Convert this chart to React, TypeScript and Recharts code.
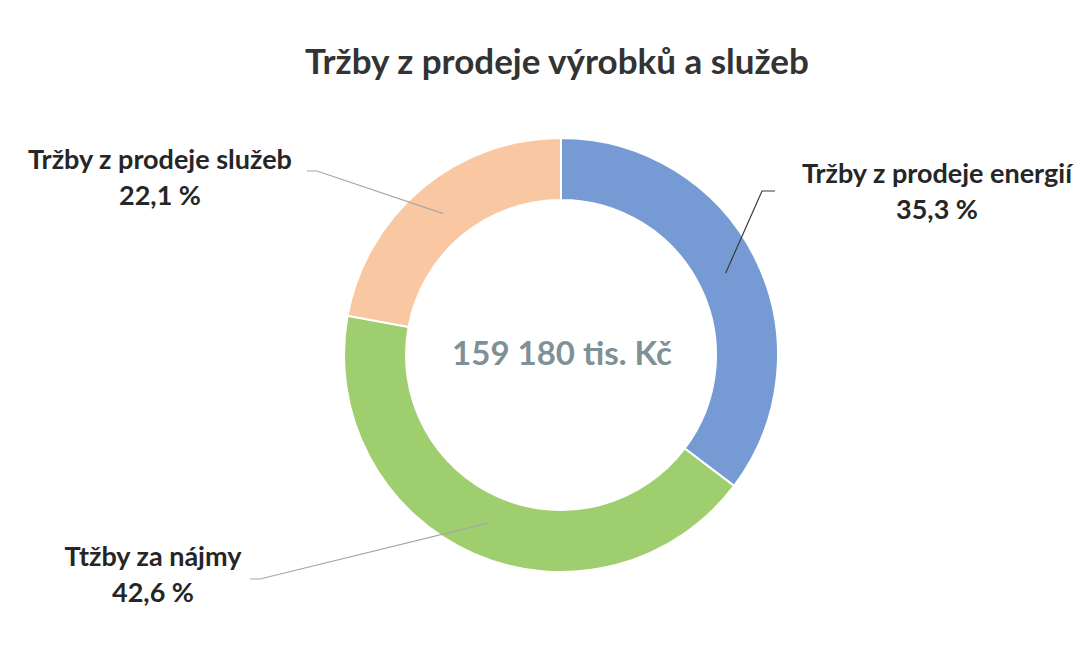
import { PieChart, Pie, Cell } from 'recharts';

const categories = ['Tržby z prodeje energií', 'Ttžby za nájmy', 'Tržby z prodeje služeb'];
const shares = [35.3, 42.6, 22.1];
const percentLabels = ['35,3 %', '42,6 %', '22,1 %'];
const sliceColors = ['#769BD4', '#9FCE6E', '#F9C8A2'];
const leaderColors = ['#3a3a3a', '#a6a6a6', '#a6a6a6'];
const chartTitle = 'Tržby z prodeje výrobků a služeb';
const totalLabel = '159 180 tis. Kč';

const data = categories.map((name, i) => ({ name, value: shares[i], pct: percentLabels[i] }));

const RAD = Math.PI / 180;
const FONT = 'Lato, "Open Sans", sans-serif';

// label placement relative to pie centre (elbow / end of leader, text centre)
const labelLayout = [
  { elbow: [201, -164], end: [214, -164], text: [376, -183] },
  { elbow: [-301, 224], end: [-311, 224], text: [-408, 200] },
  { elbow: [-244, -184], end: [-254, -184], text: [-401, -197] },
];

const renderLabel = (props: any) => {
  const { cx, cy, midAngle, index } = props;
  const r = 184;
  const ax = cx + r * Math.cos(-midAngle * RAD);
  const ay = cy + r * Math.sin(-midAngle * RAD);
  const l = labelLayout[index];
  const pts = `${ax},${ay} ${cx + l.elbow[0]},${cy + l.elbow[1]} ${cx + l.end[0]},${cy + l.end[1]}`;
  return (
    <g>
      <polyline points={pts} fill="none" stroke={leaderColors[index]} strokeWidth={1.2} />
      <text
        x={cx + l.text[0]}
        y={cy + l.text[1]}
        textAnchor="middle"
        dominantBaseline="central"
        fill="#262626"
        fontFamily={FONT}
        fontWeight={700}
        fontSize={27}
      >
        {data[index].name}
      </text>
      <text
        x={cx + l.text[0]}
        y={cy + l.text[1] + 36}
        textAnchor="middle"
        dominantBaseline="central"
        fill="#262626"
        fontFamily={FONT}
        fontWeight={700}
        fontSize={27}
      >
        {data[index].pct}
      </text>
    </g>
  );
};

export default function App() {
  return (
    <div style={{ position: 'relative', width: 1074, height: 641, background: '#fff' }}>
      <div
        style={{
          position: 'absolute',
          top: 31,
          left: 0,
          width: 1098,
          textAlign: 'center',
          fontFamily: FONT,
          fontWeight: 700,
          fontSize: 35,
          color: '#333',
          lineHeight: '42px',
        }}
      >
        {chartTitle}
      </div>
      <PieChart width={1074} height={641}>
        <Pie
          data={data}
          dataKey="value"
          nameKey="name"
          cx={548}
          cy={342}
          innerRadius={155}
          outerRadius={217}
          startAngle={90}
          endAngle={-270}
          stroke="#fff"
          strokeWidth={2}
          label={renderLabel}
          labelLine={false}
          isAnimationActive={false}
        >
          {data.map((entry, index) => (
            <Cell key={`cell-${index}`} fill={sliceColors[index]} />
          ))}
        </Pie>
      </PieChart>
      <div
        style={{
          position: 'absolute',
          top: 324,
          left: 404,
          width: 300,
          textAlign: 'center',
          fontFamily: FONT,
          fontWeight: 700,
          fontSize: 33,
          lineHeight: '40px',
          color: '#7F9097',
          whiteSpace: 'nowrap',
        }}
      >
        {totalLabel}
      </div>
    </div>
  );
}
